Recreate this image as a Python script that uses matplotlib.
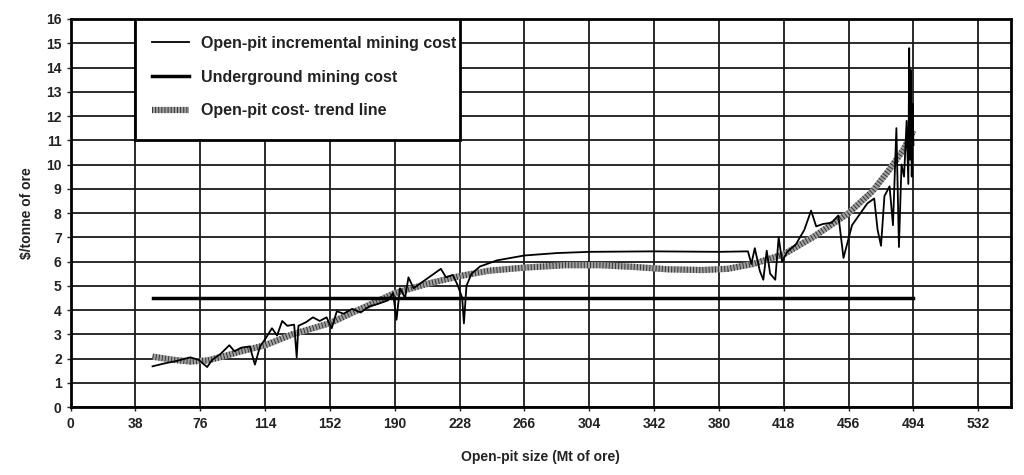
import matplotlib
matplotlib.use("Agg")
import matplotlib.pyplot as plt
from matplotlib.patches import Rectangle
import numpy as np

# open-pit incremental mining cost ($/t) vs open-pit size (Mt)
incr_x = [48, 55, 62, 70, 75, 80, 83, 88, 93, 96, 100, 105, 108, 111, 114,
          118, 121, 124, 127, 131, 132.5, 133.5, 138, 142, 146, 150, 153, 156,
          160, 165, 170, 175, 180, 186, 189, 191, 193, 196, 198, 201, 206, 212,
          217, 220, 224, 227, 229.5, 230.5, 232, 235, 240, 250, 266, 285, 304,
          342, 380, 397, 399, 401, 404, 406, 408, 410, 413, 415, 417, 420, 425,
          430, 434, 437, 441, 446, 450, 453, 458, 463, 467, 471, 473, 475, 477,
          480, 482, 484, 485.5, 487, 488.5, 490, 491, 491.5, 492, 492.5, 493,
          493.5, 494]
incr_y = [1.68, 1.8, 1.9, 2.05, 1.95, 1.65, 1.95, 2.2, 2.55, 2.3, 2.45, 2.5,
          1.75, 2.5, 2.8, 3.25, 2.95, 3.55, 3.35, 3.4, 2.05, 3.35, 3.5, 3.7,
          3.55, 3.7, 3.25, 3.95, 3.85, 4.05, 3.9, 4.15, 4.25, 4.4, 4.7, 3.6,
          4.9, 4.5, 5.35, 4.9, 5.15, 5.45, 5.7, 5.35, 5.45, 5.0, 4.5, 3.45,
          5.0, 5.5, 5.8, 6.05, 6.25, 6.35, 6.4, 6.42, 6.4, 6.42, 5.9, 6.55,
          5.6, 5.25, 6.45, 5.5, 5.25, 7.0, 6.0, 6.4, 6.7, 7.3, 8.1, 7.45, 7.55,
          7.6, 7.9, 6.15, 7.5, 8.0, 8.4, 8.6, 7.3, 6.65, 8.7, 9.1, 7.5, 11.5,
          6.6, 10.0, 9.5, 11.8, 9.2, 14.8, 10.2, 13.9, 9.5, 12.5, 10.8]

# underground mining cost
ug_x = [48, 494]
ug_y = [4.48, 4.48]

# open-pit cost trend line
trend_x = [48, 60, 70, 80, 90, 100, 114, 130, 152, 170, 190, 210, 228, 245,
           266, 290, 310, 330, 350, 370, 385, 400, 418, 435, 456, 470, 480,
           488, 494]
trend_y = [2.08, 1.95, 1.88, 1.92, 2.1, 2.3, 2.55, 3.0, 3.46, 4.05, 4.7, 5.1,
           5.4, 5.62, 5.75, 5.85, 5.85, 5.78, 5.68, 5.65, 5.7, 5.9, 6.3, 7.0,
           8.0, 8.9, 9.8, 10.6, 11.4]

x_ticks = [0, 38, 76, 114, 152, 190, 228, 266, 304, 342, 380, 418, 456, 494, 532]
y_ticks = list(range(0, 17))

legend_labels = ["Open-pit incremental mining cost",
                 "Underground mining cost",
                 "Open-pit cost- trend line"]

plt.rcParams["font.family"] = ["Liberation Sans", "DejaVu Sans"]

fig = plt.figure(figsize=(10.24, 4.75), dpi=100)
ax = fig.add_axes([0.069, 0.143, 0.918, 0.817])

incr_line, = ax.plot(incr_x, incr_y, color="black", linewidth=1.3, zorder=3)
ug_line, = ax.plot(ug_x, ug_y, color="black", linewidth=2.5, zorder=3)
trend_base, = ax.plot(trend_x, trend_y, color="#a0a0a0", linewidth=4.5,
                      solid_capstyle="butt", zorder=2)
trend_hatch, = ax.plot(trend_x, trend_y, color="#333333", linewidth=4.5,
                       linestyle=(0, (0.15, 0.35)), dash_capstyle="butt",
                       zorder=2.1)

ax.set_xlim(0, 551)
ax.set_ylim(0, 16)
ax.set_xticks(x_ticks)
ax.set_yticks(y_ticks)
ax.grid(True, color="#1a1a1a", linewidth=1.3)
ax.set_axisbelow(True)
for spine in ax.spines.values():
    spine.set_linewidth(2)
    spine.set_color("black")
ax.tick_params(axis="both", labelsize=10, colors="#222222", length=3, width=1)
for lab in ax.get_xticklabels() + ax.get_yticklabels():
    lab.set_fontweight("bold")
ax.tick_params(axis="x", pad=4)

ax.set_xlabel("Open-pit size (Mt of ore)", fontsize=10, fontweight="bold",
              color="#222222", labelpad=14)
ax.set_ylabel("$/tonne of ore", fontsize=10, fontweight="bold",
              color="#222222", labelpad=9)

# white legend box sitting on the grid
ax.add_patch(Rectangle((38, 11), 190, 5, facecolor="white", edgecolor="black",
                       linewidth=2, zorder=4))
leg = ax.legend([incr_line, ug_line, (trend_base, trend_hatch)], legend_labels,
                loc="upper left", bbox_to_anchor=(0.087, 0.956),
                borderaxespad=0, borderpad=0,
                frameon=False, fontsize=11.5, handlelength=2.3,
                handletextpad=0.75, labelspacing=1.17)
leg.set_zorder(5)
for text in leg.get_texts():
    text.set_fontweight("bold")
    text.set_color("#222222")

fig.savefig("out.png", dpi=100)
